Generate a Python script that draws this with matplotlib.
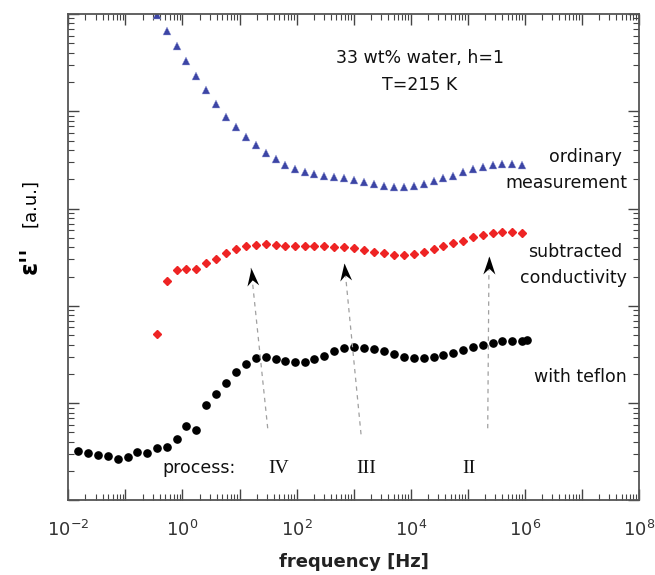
import numpy as np
import matplotlib
matplotlib.use("Agg")
import matplotlib.pyplot as plt
from matplotlib.path import Path
from matplotlib.transforms import Affine2D
from matplotlib.ticker import LogLocator, FuncFormatter, NullFormatter

log_freq = [-1.825, -1.650, -1.480, -1.304, -1.129, -0.954, -0.791, -0.616, -0.446, -0.271,
            -0.101, 0.068, 0.243, 0.413, 0.588, 0.763, 0.938, 1.114, 1.289, 1.459,
            1.634, 1.802, 1.978, 2.148, 2.310, 2.486, 2.661, 2.836, 3.011, 3.187,
            3.362, 3.537, 3.712, 3.882, 4.057, 4.227, 4.403, 4.571, 4.746, 4.916,
            5.091, 5.261, 5.437, 5.605, 5.780, 5.955, 6.032]

# log10 of eps'' (arbitrary units)
log_eps_teflon = [0.509, 0.491, 0.465, 0.457, 0.430, 0.444, 0.498, 0.485, 0.536, 0.547,
                  0.632, 0.769, 0.725, 0.978, 1.098, 1.208, 1.318, 1.403, 1.461, 1.472,
                  1.457, 1.437, 1.423, 1.426, 1.454, 1.488, 1.536, 1.564, 1.575, 1.567,
                  1.557, 1.533, 1.503, 1.478, 1.465, 1.465, 1.478, 1.492, 1.516, 1.544,
                  1.575, 1.601, 1.622, 1.636, 1.639, 1.642, 1.646]

log_eps_ordinary = [4.987, 4.822, 4.671, 4.514, 4.363, 4.219, 4.075, 3.945, 3.836, 3.739,
                    3.651, 3.575, 3.507, 3.451, 3.407, 3.376, 3.356, 3.338, 3.328, 3.314,
                    3.294, 3.273, 3.250, 3.229, 3.222, 3.222, 3.229, 3.256, 3.284, 3.311,
                    3.338, 3.373, 3.404, 3.424, 3.445, 3.455, 3.458, 3.448]

log_eps_subtracted = [1.711, 2.253, 2.369, 2.382, 2.382, 2.438, 2.485, 2.541, 2.582, 2.616,
                      2.629, 2.633, 2.629, 2.619, 2.616, 2.616, 2.616, 2.613, 2.608, 2.608,
                      2.592, 2.575, 2.554, 2.541, 2.526, 2.526, 2.536, 2.557, 2.588, 2.616,
                      2.643, 2.670, 2.705, 2.729, 2.746, 2.760, 2.760, 2.746]

# process arrows: (log f, log eps) at the bottom and at the tip
process_labels = ["IV", "III", "II"]
arrow_start = [(1.494, 0.742), (3.129, 0.680), (5.349, 0.742)]
arrow_tip = [(1.201, 2.390), (2.836, 2.444), (5.372, 2.513)]
label_pos = [1.68, 3.22, 5.02]

freq = 10.0 ** np.array(log_freq)
f_sub = freq[8:46]

fig = plt.figure(figsize=(6.55, 5.75), dpi=100)
ax = fig.add_axes([0.1043, 0.1296, 0.8713, 0.8461])

ax.plot(freq, 10.0 ** np.array(log_eps_teflon), 'o', color='black', markersize=5.2)
ax.plot(f_sub, 10.0 ** np.array(log_eps_ordinary), '^', color='#3c45a5', markersize=6.2,
        markeredgewidth=0.3, markeredgecolor='#9aa0d8')
ax.plot(f_sub, 10.0 ** np.array(log_eps_subtracted), 'D', color='#ee2424', markersize=4)

ax.set_xscale('log')
ax.set_yscale('log')
ax.set_xlim(1e-2, 1e8)
ax.set_ylim(1, 1e5)

for a in [ax.xaxis, ax.yaxis]:
    a.set_major_locator(LogLocator(base=10, numticks=20))
    a.set_minor_locator(LogLocator(base=10, subs=np.arange(2, 10), numticks=20))
    a.set_minor_formatter(NullFormatter())


def fmt(v, pos):
    e = int(round(np.log10(v)))
    if e % 2 == 0:
        return r'$\mathregular{10^{%d}}$' % e
    return ''


ax.xaxis.set_major_formatter(FuncFormatter(fmt))
ax.yaxis.set_major_formatter(NullFormatter())
ax.tick_params(which='both', direction='in', top=True, right=True, color='#444444')
ax.tick_params(which='major', length=8, width=1.0, labelsize=13, pad=14, labelcolor='#333333')
ax.tick_params(which='minor', length=4, width=0.8)
for s in ax.spines.values():
    s.set_color('#555555')
    s.set_linewidth(1.3)

ax.set_xlabel('frequency [Hz]', fontsize=13, fontweight='bold', labelpad=9, color='#222222')
fig.text(0.045, 0.548, "ε''", rotation=90, fontsize=17, fontweight='bold', ha='center', va='center')
fig.text(0.046, 0.647, '[a.u.]', rotation=90, fontsize=13, ha='center', va='center')

# annotations
tk = dict(transform=ax.transAxes, fontsize=12.5, color='#111111')
ax.text(0.616, 0.909, '33 wt% water, h=1', ha='center', va='center', **tk)
ax.text(0.616, 0.854, 'T=215 K', ha='center', va='center', **tk)
ax.text(0.970, 0.706, 'ordinary', ha='right', va='center', **tk)
ax.text(0.979, 0.653, 'measurement', ha='right', va='center', **tk)
ax.text(0.970, 0.511, 'subtracted', ha='right', va='center', **tk)
ax.text(0.979, 0.457, 'conductivity', ha='right', va='center', **tk)
ax.text(0.979, 0.254, 'with teflon', ha='right', va='center', **tk)
ax.text(0.164, 0.066, 'process:', ha='left', va='center', **tk)

# stealth-like arrow head, tip at the origin, pointing up
head = Path([(0, 0), (0.42, -1.25), (0, -0.85), (-0.42, -1.25), (0, 0)],
            [Path.MOVETO, Path.LINETO, Path.LINETO, Path.LINETO, Path.CLOSEPOLY])

for lab, (x0, y0), (x1, y1), lx in zip(process_labels, arrow_start, arrow_tip, label_pos):
    ax.plot([10 ** x0, 10 ** x1], [10 ** y0, 10 ** y1], linestyle=(0, (3.5, 3.5)),
            color='#a0a0a0', linewidth=0.9)
    p0 = ax.transData.transform((10 ** x0, 10 ** y0))
    p1 = ax.transData.transform((10 ** x1, 10 ** y1))
    ang = np.degrees(np.arctan2(p1[1] - p0[1], p1[0] - p0[0])) - 90
    mk = head.transformed(Affine2D().rotate_deg(ang))
    ax.plot([10 ** x1], [10 ** y1], marker=mk, markersize=26, color='black',
            markeredgewidth=0, linestyle='none')
    ax.text(10 ** lx, 10 ** 0.333, lab, ha='center', va='center', fontsize=14,
            family='Liberation Serif', color='#111111')

fig.savefig('out.png', dpi=100)
